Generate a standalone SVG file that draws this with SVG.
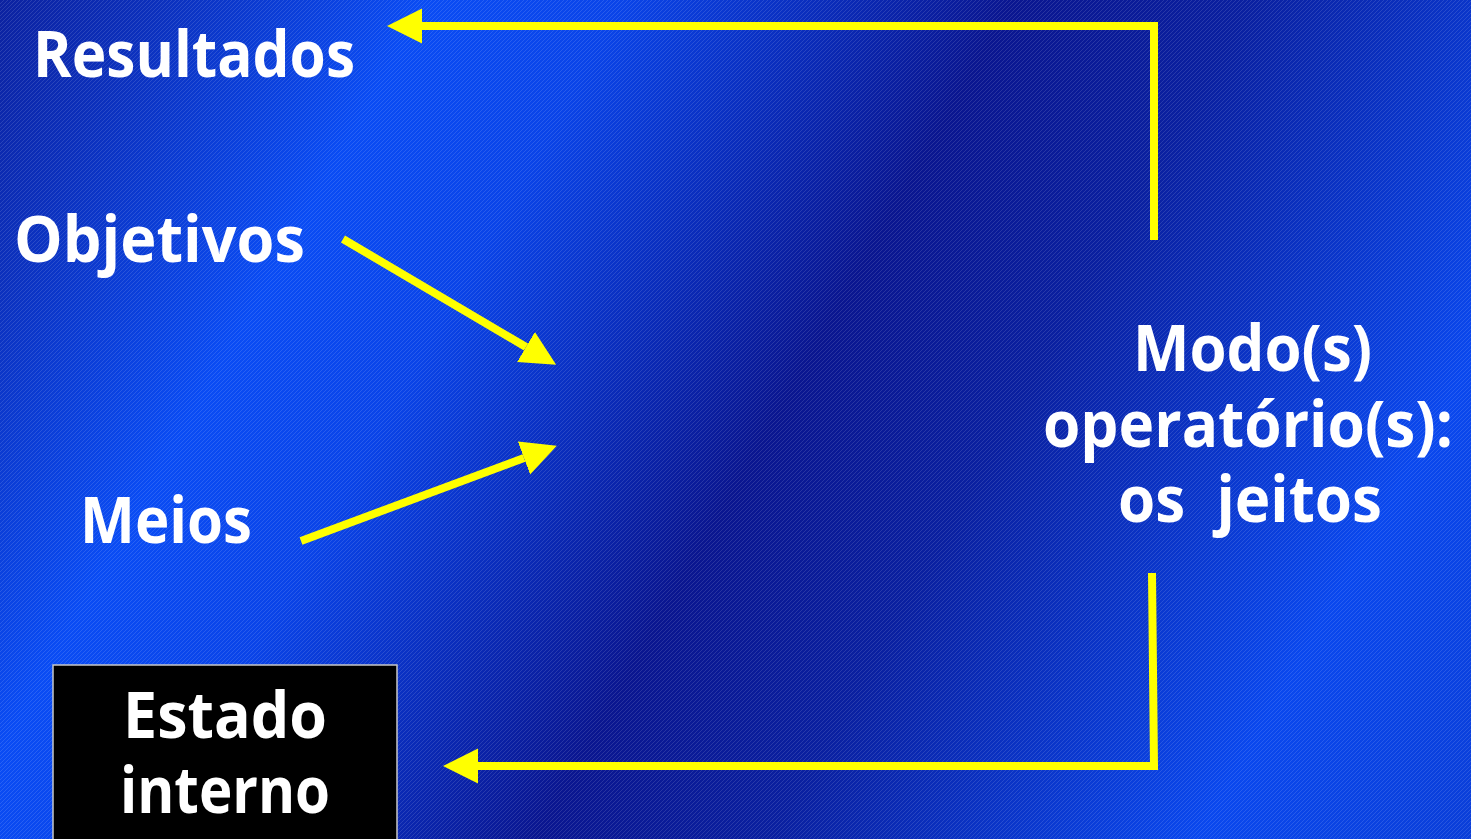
<svg xmlns="http://www.w3.org/2000/svg" width="1471" height="839" viewBox="0 0 1471 839">
<defs>
<linearGradient id="bg" x1="0" y1="0" x2="1471" y2="839" gradientUnits="userSpaceOnUse">
<stop offset="0" stop-color="#0c22a0"/>
<stop offset="0.08" stop-color="#0c30bc"/>
<stop offset="0.22" stop-color="#0a4cf4"/>
<stop offset="0.32" stop-color="#0a44e8"/>
<stop offset="0.52" stop-color="#0a1690"/>
<stop offset="0.64" stop-color="#0a20a0"/>
<stop offset="0.86" stop-color="#0a48ee"/>
<stop offset="1" stop-color="#0a3ed8"/>
</linearGradient>
<pattern id="hatch" patternUnits="userSpaceOnUse" width="4" height="4">
<path d="M-1,1 L1,-1 M0,4 L4,0 M3,5 L5,3" stroke="#ffffff" stroke-opacity="0.12" stroke-width="1"/>
</pattern>
<marker id="head" markerUnits="userSpaceOnUse" markerWidth="36" markerHeight="36" refX="0" refY="17.5" orient="auto" viewBox="0 0 36 36">
<path d="M0,0 L35,17.5 L0,35 Z" fill="#ffff00"/>
</marker>
<style>
.lbl{font-family:"Open Sans","Liberation Sans",sans-serif;font-weight:bold;font-size:64px;fill:#ffffff}
.conn{fill:none;stroke:#ffff00;stroke-width:8}
</style>
</defs>
<rect x="0" y="0" width="1471" height="839" fill="url(#bg)"/>
<rect x="0" y="0" width="1471" height="839" fill="url(#hatch)"/>

<g id="resultados"><text class="lbl" x="33" y="77" textLength="322" lengthAdjust="spacingAndGlyphs">Resultados</text></g>
<g id="objetivos"><text class="lbl" x="14" y="262" textLength="291" lengthAdjust="spacingAndGlyphs">Objetivos</text></g>
<g id="meios"><text class="lbl" x="80" y="543" textLength="172" lengthAdjust="spacingAndGlyphs">Meios</text></g>
<g id="modos">
<text class="lbl" x="1133" y="371" textLength="239" lengthAdjust="spacingAndGlyphs">Modo(s)</text>
<text class="lbl" x="1043" y="447" textLength="410" lengthAdjust="spacingAndGlyphs">operatório(s):</text>
<text class="lbl" x="1118" y="522" textLength="264" lengthAdjust="spacingAndGlyphs" xml:space="preserve">os  jeitos</text>
</g>
<g id="estado">
<rect x="53" y="665" width="344" height="180" fill="#000000" stroke="#c8c8c8" stroke-width="1.5"/>
<text class="lbl" x="123" y="738" textLength="204" lengthAdjust="spacingAndGlyphs">Estado</text>
<text class="lbl" x="120" y="813" textLength="210" lengthAdjust="spacingAndGlyphs">interno</text>
</g>

<g id="connectors">
<path class="conn" d="M1154,240 L1154,26 L422,26" marker-end="url(#head)"/>
<path class="conn" d="M343,239 L526,347" marker-end="url(#head)"/>
<path class="conn" d="M301,541 L524,458" marker-end="url(#head)"/>
<path class="conn" d="M1152,573 L1154,766 L478,766" marker-end="url(#head)"/>
</g>
</svg>
